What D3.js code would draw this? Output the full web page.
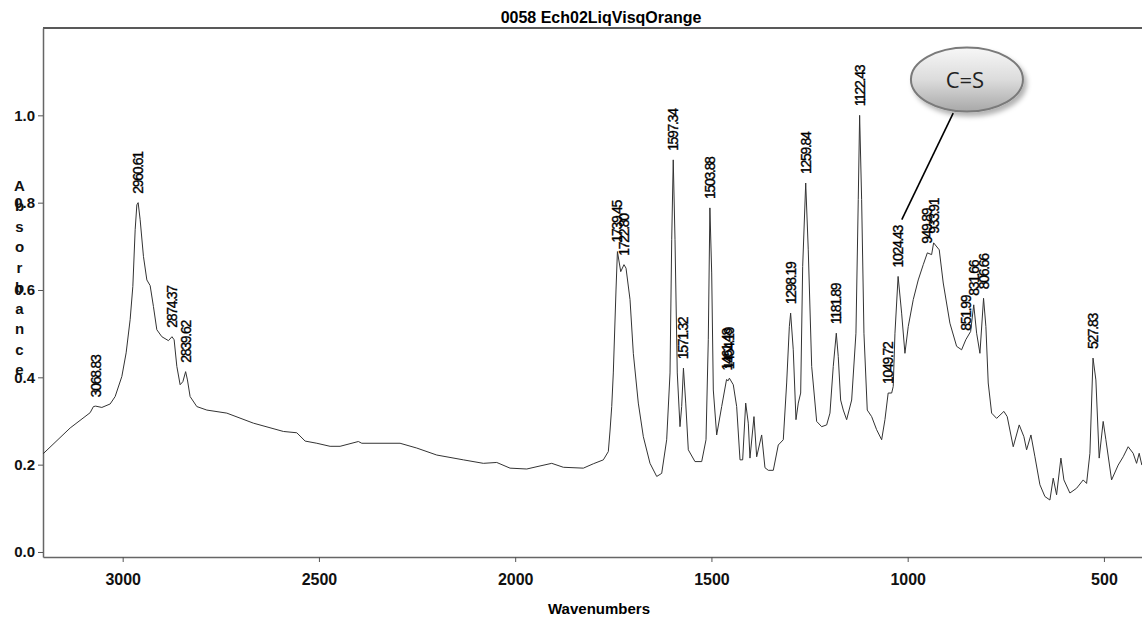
<!DOCTYPE html>
<html>
<head>
<meta charset="utf-8">
<script src="https://cdn.jsdelivr.net/npm/d3@7"></script>
<style>
  body { margin: 0; background: #fff; }
  svg { display: block; }
</style>
</head>
<body>
<svg id="chart" width="1142" height="619"></svg>
<script>
// spectrum (cm-1, absorbance)
const wavenumbers = [
  3202.6, 3133.8, 3082.9, 3074.5, 3068.8, 3053.1, 3031.9, 3019.2, 3002.1, 2991.2,
  2981.0, 2974.1, 2968.2, 2963.9, 2960.6, 2955.5, 2947.1, 2938.4, 2930.0, 2921.6,
  2913.0, 2900.2, 2883.4, 2874.4, 2868.9, 2862.0, 2853.6, 2846.7, 2839.6, 2835.0,
  2828.2, 2811.1, 2785.6, 2734.7, 2666.9, 2590.5, 2556.4, 2535.2, 2505.4, 2471.6,
  2446.1, 2399.5, 2390.8, 2293.3, 2250.7, 2199.8, 2132.0, 2081.1, 2047.0, 2013.1,
  1970.5, 1936.7, 1906.9, 1877.3, 1826.4, 1800.9, 1775.4, 1762.7, 1758.4, 1754.0,
  1750.0, 1743.1, 1739.5, 1731.1, 1722.8, 1717.6, 1707.4, 1699.0, 1686.3, 1673.5,
  1656.5, 1639.4, 1626.7, 1614.0, 1605.5, 1601.2, 1597.3, 1592.8, 1587.0, 1580.1,
  1575.8, 1571.3, 1565.5, 1558.9, 1541.9, 1524.8, 1513.8, 1508.0, 1503.9, 1499.3,
  1495.2, 1486.6, 1473.9, 1461.5, 1457.5, 1454.2, 1444.3, 1435.7, 1427.2, 1420.4,
  1412.7, 1406.1, 1401.8, 1391.6, 1384.7, 1372.0, 1363.6, 1355.1, 1342.4, 1329.7,
  1316.9, 1308.3, 1301.5, 1298.2, 1291.5, 1284.6, 1278.7, 1272.6, 1267.5, 1259.8,
  1253.3, 1244.6, 1231.9, 1219.2, 1206.4, 1198.0, 1189.6, 1181.9, 1176.9, 1170.8,
  1164.1, 1155.5, 1142.7, 1131.8, 1125.9, 1122.4, 1117.3, 1111.4, 1103.0, 1091.8,
  1079.1, 1066.3, 1057.9, 1049.7, 1040.8, 1036.8, 1032.4, 1024.4, 1015.4, 1007.0,
  998.6, 985.8, 973.1, 960.3, 949.9, 939.0, 933.9, 919.6, 909.4, 892.4,
  875.3, 862.6, 852.0, 839.6, 831.7, 824.3, 815.9, 806.7, 800.7, 794.8,
  786.1, 773.4, 754.8, 746.4, 731.1, 715.8, 703.9, 697.0, 686.0, 675.8,
  663.1, 650.4, 637.6, 629.2, 620.6, 609.6, 602.0, 586.7, 569.6, 552.8,
  544.2, 535.7, 527.8, 520.5, 512.1, 501.9, 495.0, 480.5, 463.7, 450.9,
  438.2, 425.5, 416.8, 410.2, 403.4
];
const absorbance = [
  0.225, 0.284, 0.319, 0.333, 0.334, 0.331, 0.339, 0.356, 0.402, 0.456,
  0.532, 0.608, 0.738, 0.795, 0.800, 0.761, 0.677, 0.623, 0.610, 0.562,
  0.509, 0.493, 0.484, 0.493, 0.486, 0.425, 0.383, 0.390, 0.413, 0.394,
  0.356, 0.333, 0.325, 0.318, 0.295, 0.276, 0.273, 0.254, 0.249, 0.242,
  0.242, 0.253, 0.249, 0.249, 0.238, 0.222, 0.211, 0.203, 0.205, 0.192,
  0.190, 0.197, 0.203, 0.194, 0.192, 0.202, 0.211, 0.230, 0.277, 0.333,
  0.410, 0.600, 0.688, 0.642, 0.658, 0.650, 0.578, 0.455, 0.341, 0.264,
  0.203, 0.173, 0.180, 0.257, 0.410, 0.715, 0.898, 0.715, 0.410, 0.287,
  0.333, 0.421, 0.341, 0.234, 0.207, 0.207, 0.257, 0.486, 0.788, 0.639,
  0.371, 0.268, 0.333, 0.395, 0.392, 0.398, 0.383, 0.333, 0.211, 0.211,
  0.341, 0.295, 0.215, 0.310, 0.218, 0.268, 0.193, 0.187, 0.187, 0.245,
  0.257, 0.387, 0.516, 0.547, 0.463, 0.303, 0.341, 0.364, 0.654, 0.845,
  0.692, 0.425, 0.299, 0.287, 0.291, 0.318, 0.425, 0.501, 0.448, 0.348,
  0.325, 0.303, 0.348, 0.501, 0.807, 1.000, 0.807, 0.501, 0.325, 0.310,
  0.280, 0.257, 0.303, 0.364, 0.364, 0.379, 0.501, 0.631, 0.547, 0.455,
  0.516, 0.578, 0.623, 0.658, 0.685, 0.681, 0.708, 0.692, 0.616, 0.524,
  0.471, 0.463, 0.486, 0.505, 0.566, 0.501, 0.455, 0.581, 0.516, 0.387,
  0.318, 0.306, 0.322, 0.310, 0.241, 0.291, 0.264, 0.234, 0.268, 0.218,
  0.154, 0.127, 0.119, 0.169, 0.131, 0.215, 0.165, 0.135, 0.146, 0.165,
  0.157, 0.226, 0.444, 0.394, 0.215, 0.299, 0.257, 0.165, 0.199, 0.218,
  0.241, 0.226, 0.203, 0.226, 0.199
];
const peakLabels = [
  "3068.83", "2960.61", "2874.37", "2839.62", "1739.45", "1722.80", "1597.34",
  "1571.32", "1503.88", "1461.48", "1454.19", "1298.19", "1259.84", "1181.89",
  "1122.43", "1049.72", "1024.43", "949.89", "933.91", "851.99", "831.66",
  "806.66", "527.83"
];
const xTicks = [3000, 2500, 2000, 1500, 1000, 500];
const yTicks = [0.0, 0.2, 0.4, 0.6, 0.8, 1.0];
const chartTitle = "0058 Ech02LiqVisqOrange";
const xTitle = "Wavenumbers";
const yTitle = "Absorbance";
// callout bubble, in data units
const callout = { text: "C=S", at: [849, 1.082], from: [884, 1.005], to: [1015, 0.761] };

const svg = d3.select("#chart");
const x = d3.scaleLinear().domain([3203, 403]).range([43, 1142]);
const y = d3.scaleLinear().domain([-0.0115, 1.2]).range([557, 28]);
const points = d3.zip(wavenumbers, absorbance);

const boldFont = "'Liberation Sans', Arial, sans-serif";

// title
svg.append("text")
    .attr("x", 601).attr("y", 23)
    .attr("text-anchor", "middle")
    .attr("font-family", boldFont).attr("font-weight", "bold").attr("font-size", 16)
    .text(chartTitle);

// top frame line
svg.append("line")
    .attr("x1", x.range()[0]).attr("x2", x.range()[1])
    .attr("y1", y.range()[1]).attr("y2", y.range()[1])
    .attr("stroke", "#222").attr("stroke-width", 1.3);

// axes
const xAxis = svg.append("g")
    .attr("transform", `translate(0,${y.range()[0]})`)
    .call(d3.axisBottom(x).tickValues(xTicks).tickSize(5).tickSizeOuter(0).tickPadding(12).tickFormat(d3.format("d")));
const yAxis = svg.append("g")
    .attr("transform", `translate(${x.range()[0]},0)`)
    .call(d3.axisLeft(y).tickValues(yTicks).tickSize(5).tickSizeOuter(0).tickPadding(3).tickFormat(d3.format(".1f")));

[xAxis, yAxis].forEach(g => {
    g.select(".domain").attr("stroke", "#666").attr("stroke-width", 1.5);
    g.selectAll(".tick line").attr("stroke", "#555");
    g.selectAll(".tick text")
        .attr("fill", "#111")
        .attr("font-family", boldFont).attr("font-weight", "bold");
});
xAxis.selectAll(".tick text").attr("font-size", 16);
yAxis.selectAll(".tick text").attr("font-size", 15);

// axis titles
svg.append("text")
    .attr("x", 599).attr("y", 614)
    .attr("text-anchor", "middle")
    .attr("font-family", boldFont).attr("font-weight", "bold").attr("font-size", 15)
    .text(xTitle);

// stacked letters, as the instrument software prints them
svg.append("g")
    .selectAll("text")
    .data(yTitle.split(""))
    .join("text")
    .attr("x", 19.5)
    .attr("y", (d, i) => 190.7 + i * 20.5)
    .attr("text-anchor", "middle")
    .attr("font-family", boldFont).attr("font-weight", "bold").attr("font-size", 15)
    .attr("fill", "#111")
    .text(d => d);

// spectrum
const line = d3.line().x(d => x(d[0])).y(d => y(d[1]));
svg.append("path")
    .datum(points)
    .attr("fill", "none")
    .attr("stroke", "#333")
    .attr("stroke-width", 1)
    .attr("d", line);

// peak labels, just above the local maximum
function peakHeight(wn) {
    return d3.max(points.filter(p => Math.abs(p[0] - wn) <= 3), p => p[1]);
}
svg.append("g")
    .selectAll("text")
    .data(peakLabels)
    .join("text")
    .attr("transform", d => `translate(${x(+d)},${y(peakHeight(+d)) - 9}) rotate(-90)`)
    .attr("dy", "0.36em")
    .attr("font-family", "'Liberation Sans', Arial, sans-serif")
    .attr("font-size", 14)
    .attr("letter-spacing", -1.3)
    .attr("fill", "#000")
    .attr("stroke", "#000")
    .attr("stroke-width", 0.35)
    .text(d => d);

// callout
const defs = svg.append("defs");
const grad = defs.append("linearGradient")
    .attr("id", "bubble").attr("x1", 0).attr("y1", 0).attr("x2", 0).attr("y2", 1);
grad.append("stop").attr("offset", "0%").attr("stop-color", "#f7f7f7");
grad.append("stop").attr("offset", "50%").attr("stop-color", "#dcdcdc");
grad.append("stop").attr("offset", "100%").attr("stop-color", "#a8a8a8");
const shadow = defs.append("filter").attr("id", "shadow")
    .attr("x", "-20%").attr("y", "-20%").attr("width", "150%").attr("height", "160%");
shadow.append("feDropShadow")
    .attr("dx", 3).attr("dy", 4).attr("stdDeviation", 2.5)
    .attr("flood-color", "#000").attr("flood-opacity", 0.3);

svg.append("line")
    .attr("x1", x(callout.from[0])).attr("y1", y(callout.from[1]))
    .attr("x2", x(callout.to[0])).attr("y2", y(callout.to[1]))
    .attr("stroke", "#000").attr("stroke-width", 1.6);

svg.append("ellipse")
    .attr("cx", x(callout.at[0])).attr("cy", y(callout.at[1]))
    .attr("rx", 56).attr("ry", 32)
    .attr("fill", "url(#bubble)")
    .attr("stroke", "#7a7a7a").attr("stroke-width", 2)
    .attr("filter", "url(#shadow)");

svg.append("text")
    .attr("x", x(callout.at[0]) - 2).attr("y", y(callout.at[1]) + 8)
    .attr("text-anchor", "middle")
    .attr("font-family", "'Open Sans', 'Noto Sans', sans-serif")
    .attr("font-size", 22)
    .attr("fill", "#222")
    .text(callout.text);
</script>
</body>
</html>
